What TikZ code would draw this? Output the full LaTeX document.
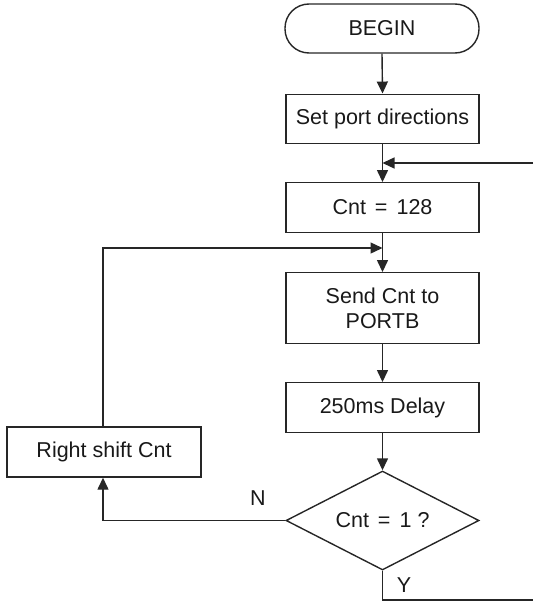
\documentclass[tikz,border=0pt]{standalone}
\usepackage{fontspec}
\setmainfont{Liberation Sans}
\usetikzlibrary{arrows.meta,shapes.geometric}
\newcommand{\eqsign}{\hspace{0.42em}=\hspace{0.42em}}
\begin{document}
\begin{tikzpicture}[x=1pt,y=-1pt,
  every node/.style={font=\fontsize{21.5}{25}\selectfont, text=black!90},
  line/.style={draw=black!85, line width=1.4pt},
  arr/.style={line, -{Triangle[length=12pt,width=11pt]}},
  procbox/.style={line, rectangle, minimum width=193pt, minimum height=49.5pt, inner sep=0pt, align=center},
  termbox/.style={line, rectangle, rounded corners=24pt, minimum width=194pt, minimum height=49pt, inner sep=0pt},
  decbox/.style={line, diamond, minimum width=193pt, minimum height=99pt, inner sep=0pt, aspect=1.95},
  lbl/.style={inner sep=0pt}]
\useasboundingbox (0,0) rectangle (533,602);
\node[termbox] (begin) at (382,28.5) {BEGIN};
\node[procbox] (set) at (382.5,119) {Set port directions};
\node[procbox] (cnt) at (382.5,207.5) {Cnt\eqsign 128};
\node[procbox, minimum height=70.5pt] (send) at (382.5,308) {Send Cnt to\\PORTB};
\node[procbox] (delay) at (382.5,407.5) {250ms Delay};
\node[decbox] (dec) at (382.5,520.5) {Cnt\eqsign 1 ?};
\node[procbox, minimum width=194pt, minimum height=50pt] (rshift) at (104,452) {Right shift Cnt};
\node[lbl] (nlab) at (258,498) {N};
\node[lbl] (ylab) at (404,585) {Y};
\coordinate (j1) at (382.5,163);
\coordinate (inR) at (533,163);
\coordinate (j2) at (382.5,248);
\coordinate (lpTop) at (103,248);
\coordinate (nCorner) at (103,520.5);
\coordinate (yCorner) at (382.5,600);
\coordinate (yEnd) at (533,600);
\draw[arr] (begin.south) -- (set.north);
\draw[arr] (set.south) -- (cnt.north);
\draw[arr] (inR) -- (j1);
\draw[arr] (cnt.south) -- (send.north);
\draw[arr] (rshift.north -| lpTop) -- (lpTop) -- (j2);
\draw[arr] (send.south) -- (delay.north);
\draw[arr] (delay.south) -- (dec.north);
\draw[arr] (dec.west) -- (nCorner) -- (rshift.south -| nCorner);
\draw[line] (dec.south) -- (yCorner) -- (yEnd);
\end{tikzpicture}
\end{document}
